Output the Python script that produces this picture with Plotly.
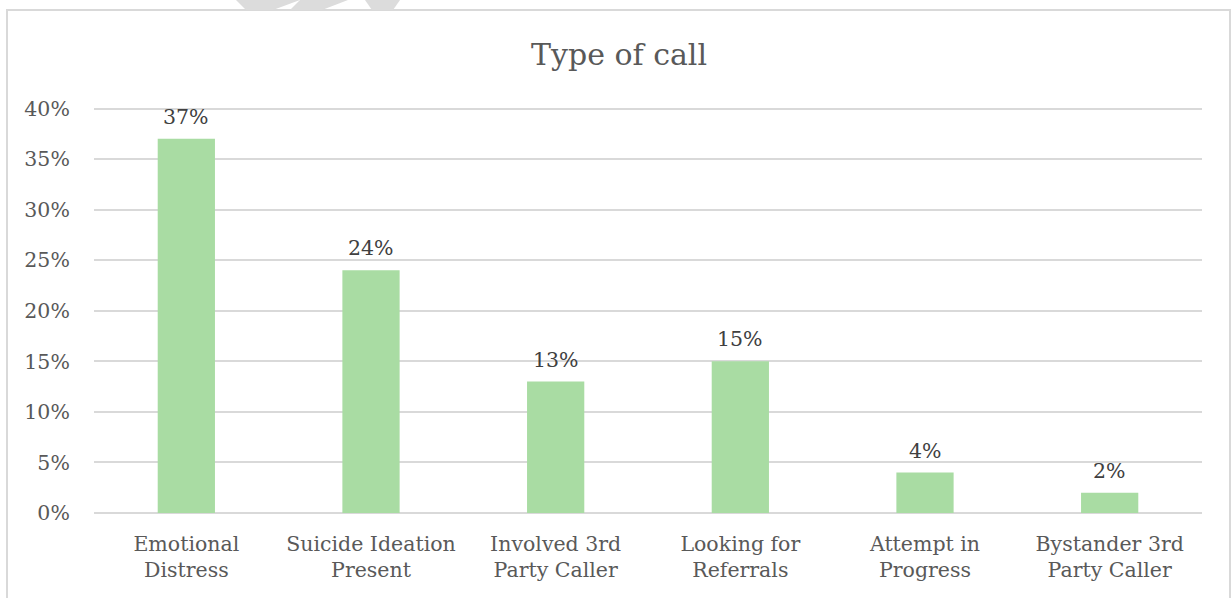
import plotly.graph_objects as go

categories = ["Emotional<br>Distress", "Suicide Ideation<br>Present", "Involved 3rd<br>Party Caller",
              "Looking for<br>Referrals", "Attempt in<br>Progress", "Bystander 3rd<br>Party Caller"]
values = [0.37, 0.24, 0.13, 0.15, 0.04, 0.02]
value_labels = ["37%", "24%", "13%", "15%", "4%", "2%"]
y_ticks = [0, 0.05, 0.10, 0.15, 0.20, 0.25, 0.30, 0.35, 0.40]
y_tick_labels = ["0%", "5%", "10%", "15%", "20%", "25%", "30%", "35%", "40%"]
title_text = "Type of call"

W, H = 1231, 598
L, R, T, B = 94, 1202, 106, 513.4
FONT = "DejaVu Serif"
GRAY = "#595959"

def px(x):
    return (x - L) / (R - L)

def py(y):
    return (B - y) / (B - T)

fig = go.Figure()
fig.add_trace(go.Bar(x=categories, y=values, marker=dict(color="#a9dca3", line=dict(width=0)),
                     hoverinfo="skip"))

for c, v, t in zip(categories, values, value_labels):
    fig.add_annotation(x=c, y=v, text=t, showarrow=False, yanchor="bottom", yshift=8,
                       font=dict(family=FONT, size=20.5, color="#404040"))

shapes = []
# chart border
shapes.append(dict(type="rect", xref="paper", yref="paper", x0=px(7), x1=px(1230), y0=py(10), y1=py(640),
                   line=dict(color="#d9d9d9", width=2), fillcolor="rgba(0,0,0,0)", layer="below"))
# watermark fragments at top
wm = [[(236, 0), (300, 0), (273, 10), (246, 10)],
      [(300, 0), (348, 0), (322, 10), (290, 10)],
      [(365, 0), (400, 0), (393, 10), (372, 10)]]
for poly in wm:
    path = "M " + " L ".join(f"{px(a):.5f},{py(b):.5f}" for a, b in poly) + " Z"
    shapes.append(dict(type="path", xref="paper", yref="paper", path=path,
                       fillcolor="#dcdcdc", line=dict(width=0), layer="below"))

fig.update_layout(
    width=W, height=H,
    margin=dict(l=L, r=W - R, t=T, b=H - B, autoexpand=False),
    paper_bgcolor="white", plot_bgcolor="white",
    bargap=0.69,
    showlegend=False,
    shapes=shapes,
    title=dict(text=title_text, x=619 / W, xanchor="center", y=1 - 54 / H, yanchor="middle",
               font=dict(family=FONT, size=30, color=GRAY)),
    font=dict(family=FONT, color=GRAY),
    xaxis=dict(showgrid=False, showline=False, ticks="outside", ticklen=12, tickcolor="rgba(0,0,0,0)",
               tickfont=dict(family=FONT, size=20.5, color=GRAY), fixedrange=True),
    yaxis=dict(range=[0, 0.4025], tickvals=y_ticks, ticktext=y_tick_labels, showgrid=True,
               gridcolor="#d9d9d9", gridwidth=1.5, zeroline=True, zerolinecolor="#d9d9d9",
               zerolinewidth=1.5, showline=False, ticks="outside", ticklen=19,
               tickcolor="rgba(0,0,0,0)", tickfont=dict(family=FONT, size=20.5, color=GRAY),
               fixedrange=True),
)

fig.write_html("out.html", config={"displayModeBar": False},
               post_script="document.body.style.margin='0';document.body.style.overflow='hidden';")
